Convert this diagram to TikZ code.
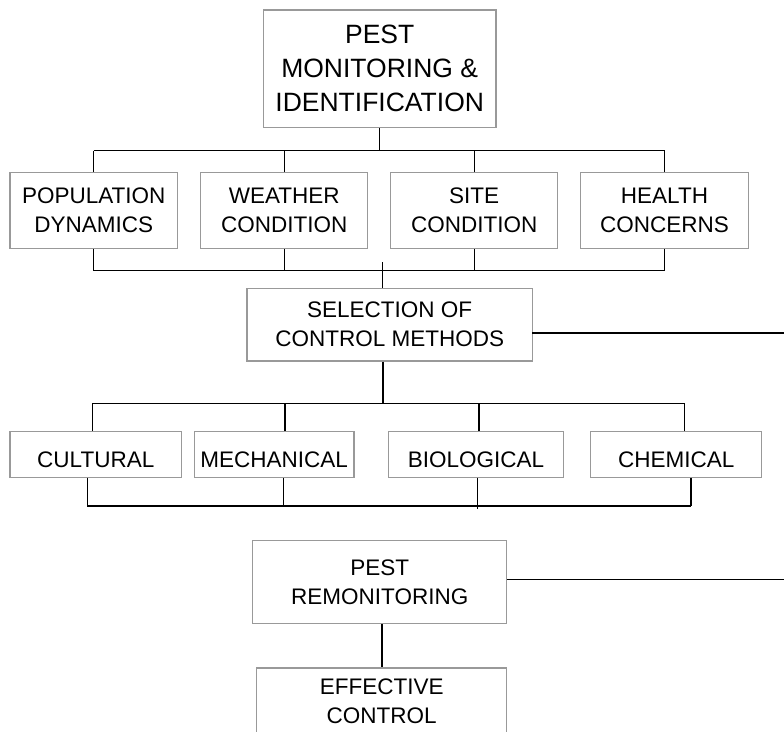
\documentclass[tikz,border=0pt]{standalone}
\usepackage{fontspec}
\setmainfont{Liberation Sans}
\begin{document}
\begin{tikzpicture}[x=1pt,y=-1pt,
  box/.style={draw=black!40, line width=1.3pt, fill=white, align=center, inner sep=0pt,
              font=\fontsize{22.5}{29}\selectfont},
  bigbox/.style={box, font=\fontsize{26.5}{34}\selectfont},
  rowbox/.style={box, minimum height=45.6pt, text height=25pt, text depth=0pt},
  conn/.style={draw=black, line width=1.3pt}]
\useasboundingbox (0,0) rectangle (784,731);
\clip (0,0) rectangle (784,731);

% top box
\node[bigbox, minimum width=232.7pt, minimum height=117.7pt] (top) at (379.7,68.8)
  {PEST\\MONITORING \&\\IDENTIFICATION};

% first row
\node[box, minimum width=167.7pt, minimum height=75.6pt] (pop) at (93.8,210.5) {POPULATION\\DYNAMICS};
\node[box, minimum width=167pt, minimum height=75.6pt] (wea) at (284.2,210.5) {WEATHER\\CONDITION};
\node[box, minimum width=167pt, minimum height=75.6pt] (site) at (474.2,210.5) {SITE\\CONDITION};
\node[box, minimum width=167.6pt, minimum height=75.6pt] (hea) at (664.5,210.5) {HEALTH\\CONCERNS};

% selection
\node[box, minimum width=285.3pt, minimum height=72.7pt] (sel) at (389.7,324.7) {SELECTION OF\\CONTROL METHODS};

% second row
\node[rowbox, minimum width=171.7pt] (cul) at (95.8,454.5) {CULTURAL};
\node[rowbox, minimum width=159.7pt] (mec) at (274.2,454.5) {MECHANICAL};
\node[rowbox, minimum width=175.4pt] (bio) at (476,454.5) {BIOLOGICAL};
\node[rowbox, minimum width=171pt] (che) at (676.2,454.5) {CHEMICAL};

% remonitoring
\node[box, minimum width=254pt, minimum height=82.8pt] (rem) at (379.7,582.1) {PEST\\REMONITORING};
\node[box, minimum width=250pt, minimum height=66pt] (eff) at (381.7,701) {EFFECTIVE\\CONTROL};

% coordinates
\coordinate (b1) at (379.5,150.7);
\coordinate (b1l) at (93.8,150.7);
\coordinate (b1r) at (664.5,150.7);
\coordinate (b2l) at (93.8,270.7);
\coordinate (b2r) at (664.5,270.7);
\coordinate (sin) at (382.3,262);
\coordinate (selr) at (532.3,333);
\coordinate (edge1) at (784,333);
\coordinate (b3) at (383,403.3);
\coordinate (b3l) at (92.3,403.3);
\coordinate (b3r) at (684.3,403.3);
\coordinate (b4l) at (87.3,506);
\coordinate (b4r) at (691,506);
\coordinate (tick) at (477.3,509);
\coordinate (remr) at (506.8,579.8);
\coordinate (edge2) at (784,579.8);

% top connectors
\draw[conn] (top.south -| b1) -- (b1);
\draw[conn] (b1l) -- (b1r);
\draw[conn] (b1l) -- (pop.north);
\draw[conn] (b1l -| wea.north) -- (wea.north);
\draw[conn] (b1l -| site.north) -- (site.north);
\draw[conn] (b1r) -- (hea.north);

% first row bottom connectors
\draw[conn] (pop.south) -- (b2l);
\draw[conn] (wea.south) -- (b2l -| wea.south);
\draw[conn] (site.south) -- (b2l -| site.south);
\draw[conn] (hea.south) -- (b2r);
\draw[conn] (b2l) -- (b2r);
\draw[conn] (sin) -- (sin |- sel.north);

% selection right line
\draw[conn] (selr) -- (edge1);

% second row connectors
\draw[conn] (sel.south -| b3) -- (b3);
\draw[conn] (b3l) -- (b3r);
\draw[conn] (b3l) -- (b3l |- cul.north);
\draw[conn] (285,403.3) -- (285,431.7 |- mec.north);
\draw[conn] (479,403.3) -- (479,431.7 |- bio.north);
\draw[conn] (b3r) -- (b3r |- che.north);

\draw[conn] (b4l |- cul.south) -- (b4l);
\draw[conn] (283.3,477.3 |- mec.south) -- (283.3,506);
\draw[conn] (477.3,477.3 |- bio.south) -- (tick);
\draw[conn] (b4r |- che.south) -- (b4r);
\draw[conn] (b4l) -- (b4r);

% remonitoring connectors
\draw[conn] (remr) -- (edge2);
\draw[conn] (rem.south -| 382,0) -- (eff.north -| 382,0);
\end{tikzpicture}
\end{document}
